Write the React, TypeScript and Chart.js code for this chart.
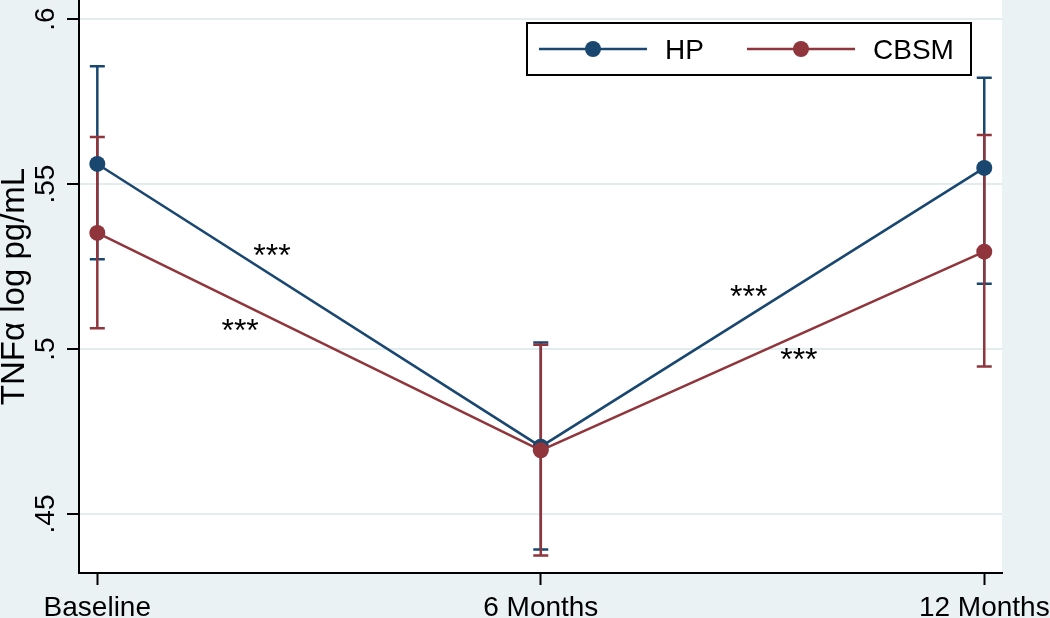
import React, { useEffect, useRef } from "react";
import { Chart, registerables } from "chart.js";

Chart.register(...registerables);

const xLabels = ["Baseline", "6 Months", "12 Months"];
const xPositions = [0, 1, 2];
const yTickValues = [0.45, 0.5, 0.55, 0.6];
const yTickLabels = [".45", ".5", ".55", ".6"];

const hpMean = [0.5561, 0.4704, 0.5549];
const hpLower = [0.5272, 0.4392, 0.5198];
const hpUpper = [0.5857, 0.502, 0.5822];

const cbsmMean = [0.5352, 0.4693, 0.5295];
const cbsmLower = [0.5063, 0.4374, 0.4947];
const cbsmUpper = [0.5643, 0.5013, 0.5649];

const starX = [0.394, 0.322, 1.469, 1.582];
const starY = [0.5292, 0.5065, 0.5168, 0.4977];
const starText = ["***", "***", "***", "***"];

const HP_COLOR = "#1A476F";
const CBSM_COLOR = "#90353B";
const BG = "#EAF2F3";
const FONT = "'Liberation Sans', Arial, sans-serif";

export default function App() {
  const ref = useRef<HTMLCanvasElement | null>(null);

  useEffect(() => {
    document.body.style.margin = "0";
    const canvas = ref.current!;

    const bgPlugin = {
      id: "bg",
      beforeDraw(chart: any) {
        const { ctx, chartArea } = chart;
        ctx.save();
        ctx.fillStyle = BG;
        ctx.fillRect(0, 0, chart.width, chart.height);
        ctx.fillStyle = "#FFFFFF";
        ctx.fillRect(chartArea.left, chartArea.top, chartArea.right - chartArea.left, chartArea.bottom - chartArea.top);
        ctx.restore();
      },
    };

    const errPlugin = {
      id: "errbars",
      beforeDatasetsDraw(chart: any) {
        const { ctx } = chart;
        const xs = chart.scales.x;
        const ys = chart.scales.y;
        const series = [
          { lo: hpLower, hi: hpUpper, color: HP_COLOR },
          { lo: cbsmLower, hi: cbsmUpper, color: CBSM_COLOR },
        ];
        ctx.save();
        ctx.lineWidth = 2.5;
        const cap = 7.5;
        for (const s of series) {
          ctx.strokeStyle = s.color;
          for (let i = 0; i < xPositions.length; i++) {
            const px = xs.getPixelForValue(xPositions[i]);
            const yl = ys.getPixelForValue(s.lo[i]);
            const yh = ys.getPixelForValue(s.hi[i]);
            ctx.beginPath();
            ctx.moveTo(px, yl);
            ctx.lineTo(px, yh);
            ctx.moveTo(px - cap, yl);
            ctx.lineTo(px + cap, yl);
            ctx.moveTo(px - cap, yh);
            ctx.lineTo(px + cap, yh);
            ctx.stroke();
          }
        }
        ctx.restore();
      },
    };

    const overlayPlugin = {
      id: "overlay",
      afterDraw(chart: any) {
        const { ctx, chartArea } = chart;
        const xs = chart.scales.x;
        const ys = chart.scales.y;
        ctx.save();
        // y tick labels, rotated
        ctx.fillStyle = "#000";
        ctx.font = `28px ${FONT}`;
        ctx.textAlign = "center";
        ctx.textBaseline = "middle";
        for (let i = 0; i < yTickValues.length; i++) {
          const py = ys.getPixelForValue(yTickValues[i]);
          ctx.save();
          ctx.translate(46, py);
          ctx.rotate(-Math.PI / 2);
          ctx.fillText(yTickLabels[i], 0, 0);
          ctx.restore();
        }
        // asterisks
        ctx.textBaseline = "alphabetic";
        ctx.font = `32px ${FONT}`;
        for (let i = 0; i < starX.length; i++) {
          const px = xs.getPixelForValue(starX[i]);
          const py = ys.getPixelForValue(starY[i]);
          ctx.fillText(starText[i], px, py + 13);
        }
        // legend
        const right = chartArea.right - 31;
        const top = chartArea.top + 23;
        const left = right - 444;
        const h = 52;
        ctx.fillStyle = "#FFFFFF";
        ctx.fillRect(left, top, right - left, h);
        ctx.strokeStyle = "#000";
        ctx.lineWidth = 2;
        ctx.strokeRect(left, top, right - left, h);
        const cy = top + h / 2;
        const items = [
          { label: "HP", color: HP_COLOR, x0: left + 12 },
          { label: "CBSM", color: CBSM_COLOR, x0: left + 220 },
        ];
        for (const it of items) {
          ctx.strokeStyle = it.color;
          ctx.lineWidth = 2.5;
          ctx.beginPath();
          ctx.moveTo(it.x0, cy);
          ctx.lineTo(it.x0 + 108, cy);
          ctx.stroke();
          ctx.fillStyle = it.color;
          ctx.beginPath();
          ctx.arc(it.x0 + 54, cy, 8, 0, Math.PI * 2);
          ctx.fill();
          ctx.fillStyle = "#000";
          ctx.font = `28px ${FONT}`;
          ctx.textAlign = "left";
          ctx.textBaseline = "alphabetic";
          ctx.fillText(it.label, it.x0 + 126, cy + 10);
        }
        ctx.restore();
      },
    };

    const mk = (arr: number[]) => xPositions.map((x, i) => ({ x, y: arr[i] }));

    const chart = new Chart(canvas, {
      type: "line",
      data: {
        datasets: [
          {
            label: "HP",
            data: mk(hpMean),
            borderColor: HP_COLOR,
            backgroundColor: HP_COLOR,
            borderWidth: 2.5,
            pointRadius: 8,
            pointBorderWidth: 0,
            pointBackgroundColor: HP_COLOR,
            tension: 0,
            order: 2,
          },
          {
            label: "CBSM",
            data: mk(cbsmMean),
            borderColor: CBSM_COLOR,
            backgroundColor: CBSM_COLOR,
            borderWidth: 2.5,
            pointRadius: 8,
            pointBorderWidth: 0,
            pointBackgroundColor: CBSM_COLOR,
            tension: 0,
            order: 1,
          },
        ],
      },
      options: {
        animation: false,
        responsive: false,
        devicePixelRatio: 1,
        layout: { autoPadding: false, padding: { left: 0, right: 48, top: 0, bottom: 0 } },
        plugins: { legend: { display: false }, tooltip: { enabled: false } },
        scales: {
          x: {
            type: "linear",
            min: -0.0413,
            max: 2.04,
            afterBuildTicks: (s: any) => {
              s.ticks = xPositions.map((v) => ({ value: v }));
            },
            afterFit: (s: any) => {
              s.height = 45;
              s.paddingLeft = 0;
              s.paddingRight = 0;
            },
            ticks: {
              autoSkip: false,
              maxRotation: 0,
              minRotation: 0,
              padding: 6,
              color: "#000",
              font: { size: 28, family: FONT },
              callback: (v: any) => {
                const i = xPositions.indexOf(v);
                return i >= 0 ? xLabels[i] : "";
              },
            },
            grid: { drawOnChartArea: false, drawTicks: true, tickLength: 12, tickColor: "#000", tickWidth: 2 },
            border: { color: "#000", width: 2 },
          },
          y: {
            type: "linear",
            min: 0.4321,
            max: 0.6058,
            afterBuildTicks: (s: any) => {
              s.ticks = yTickValues.map((v) => ({ value: v }));
            },
            afterFit: (s: any) => {
              s.width = 79;
              s.paddingTop = 0;
              s.paddingBottom = 0;
            },
            ticks: { display: false },
            grid: { color: "#E3EDF0", lineWidth: 2, drawTicks: true, tickLength: 12, tickColor: "#000", tickWidth: 2 },
            border: { color: "#000", width: 2 },
            title: {
              display: true,
              text: "TNFα log pg/mL",
              color: "#000",
              font: { size: 33, family: FONT, lineHeight: 1 },
              padding: { top: -2, bottom: 0 },
            },
          },
        },
      },
      plugins: [bgPlugin, errPlugin, overlayPlugin],
    });
    return () => chart.destroy();
  }, []);

  return <canvas ref={ref} width={1050} height={618} style={{ display: "block", width: 1050, height: 618 }} />;
}
